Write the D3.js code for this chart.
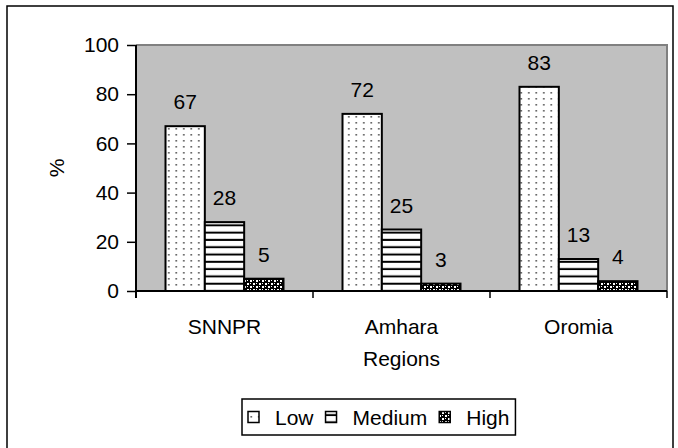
<!DOCTYPE html>
<html><head><meta charset="utf-8">
<script src="https://cdn.jsdelivr.net/npm/d3@7"></script>
<style>body{margin:0;background:#fff}svg{display:block;font-family:"Liberation Sans",Arial,sans-serif}</style>
</head><body>
<script>
const categories = ["SNNPR","Amhara","Oromia"];
const seriesNames = ["Low","Medium","High"];
const low = [67,72,83];
const medium = [28,25,13];
const high = [5,3,4];
const yTicks = [0,20,40,60,80,100];
const values = [low, medium, high];

(function(){
const W=678,H=448;
const svg=d3.select("body").append("svg").attr("width",W).attr("height",H);
const defs=svg.append("defs");
let p=defs.append("pattern").attr("id","pLow").attr("patternUnits","userSpaceOnUse").attr("width",7.5).attr("height",6);
p.append("rect").attr("width",7.5).attr("height",6).attr("fill","#fff");
p.append("rect").attr("x",3).attr("y",2).attr("width",1.6).attr("height",1.6).attr("fill","#555");
p=defs.append("pattern").attr("id","pMed").attr("patternUnits","userSpaceOnUse").attr("width",8).attr("height",7.3);
p.append("rect").attr("width",8).attr("height",7.3).attr("fill","#fff");
p.append("rect").attr("y",5.3).attr("width",8).attr("height",2).attr("fill","#000");
p=defs.append("pattern").attr("id","pHigh").attr("patternUnits","userSpaceOnUse").attr("width",6).attr("height",6);
p.append("rect").attr("width",6).attr("height",6).attr("fill","#000");
p.append("rect").attr("x",1).attr("y",1).attr("width",2).attr("height",2).attr("fill","#fff");
p.append("rect").attr("x",4).attr("y",4).attr("width",2).attr("height",2).attr("fill","#fff");
p.append("rect").attr("x",4).attr("y",1).attr("width",1).attr("height",1).attr("fill","#fff");
p.append("rect").attr("x",1).attr("y",4).attr("width",1).attr("height",1).attr("fill","#fff");
const fills=["url(#pLow)","url(#pMed)","url(#pHigh)"];

svg.append("path").attr("d","M7,449V6H673V449").attr("fill","none").attr("stroke","#000").attr("stroke-width",1.5);

const pl=136,pr=667,pt=45,pb=291;
const x=d3.scaleBand().domain(categories).range([pl,pr]).paddingInner(0).paddingOuter(0);
const y=d3.scaleLinear().domain([0,100]).range([pb,pt]);
const step=x.bandwidth();
const bw=step/4.5;
const xs=d3.scaleBand().domain(seriesNames).range([0.75*bw,3.75*bw]).padding(0);

svg.append("rect").attr("x",pl).attr("y",pt).attr("width",pr-pl).attr("height",pb-pt).attr("fill","#c0c0c0");
svg.append("path").attr("d",`M${pl},${pt}H${pr}V${pb}`).attr("fill","none").attr("stroke","#808080").attr("stroke-width",2);

const fs=21;
seriesNames.forEach((s,si)=>{
  categories.forEach((c,ci)=>{
    const v=values[si][ci];
    const bx=x(c)+xs(s);
    svg.append("rect").attr("x",bx).attr("y",y(v)).attr("width",xs.bandwidth()).attr("height",y(0)-y(v))
      .attr("fill",fills[si]).attr("stroke","#000").attr("stroke-width",2);
    svg.append("text").attr("x",bx+xs.bandwidth()/2).attr("y",y(v)-17).attr("text-anchor","middle")
      .attr("font-size",fs).text(v);
  });
});

const ya=svg.append("g").attr("transform",`translate(${pl},0)`)
  .call(d3.axisLeft(y).tickValues(yTicks).tickSize(9).tickPadding(8));
ya.select(".domain").attr("stroke","#000").attr("stroke-width",2).attr("d",`M0,${pt}V${pb+7}`);
ya.selectAll(".tick line").attr("stroke","#000").attr("stroke-width",1.5);
ya.selectAll("text").attr("font-size",fs).attr("font-family","Liberation Sans, Arial, sans-serif").attr("fill","#000");

const xa=svg.append("g").attr("transform",`translate(0,${pb})`)
  .call(d3.axisBottom(x).tickSize(0).tickPadding(0));
xa.select(".domain").attr("stroke","#000").attr("stroke-width",2).attr("d",`M${pl},0H${pr}`);
xa.selectAll("text").attr("font-size",fs).attr("font-family","Liberation Sans, Arial, sans-serif").attr("fill","#000")
  .attr("dy",null).attr("y",43);
categories.forEach((c)=>{
  svg.append("line").attr("x1",x(c)+step).attr("x2",x(c)+step).attr("y1",pb).attr("y2",pb+7).attr("stroke","#000").attr("stroke-width",1.5);
});

svg.append("text").attr("x",(pl+pr)/2).attr("y",366).attr("text-anchor","middle").attr("font-size",fs).text("Regions");
svg.append("text").attr("transform",`translate(64,${(pt+pb)/2}) rotate(-90)`).attr("text-anchor","middle").attr("font-size",fs).text("%");

const lg=svg.append("g");
const lx=242, ly=399, lh=36;
let cx=lx+6;
const legendG=lg.append("g");
seriesNames.forEach((s,i)=>{
  legendG.append("rect").attr("x",cx).attr("y",ly+lh/2-5.5).attr("width",11).attr("height",11).attr("fill",fills[i]).attr("stroke","#000").attr("stroke-width",1.5);
  const t=legendG.append("text").attr("x",cx+27).attr("y",ly+lh/2+7.5).attr("font-size",fs).text(s);
  cx+=27+t.node().getComputedTextLength()+12;
});
cx-=6;
lg.insert("rect",":first-child").attr("x",lx).attr("y",ly).attr("width",cx-lx).attr("height",lh).attr("fill","#fff").attr("stroke","#000").attr("stroke-width",1.5);
})();
</script>
</body></html>
